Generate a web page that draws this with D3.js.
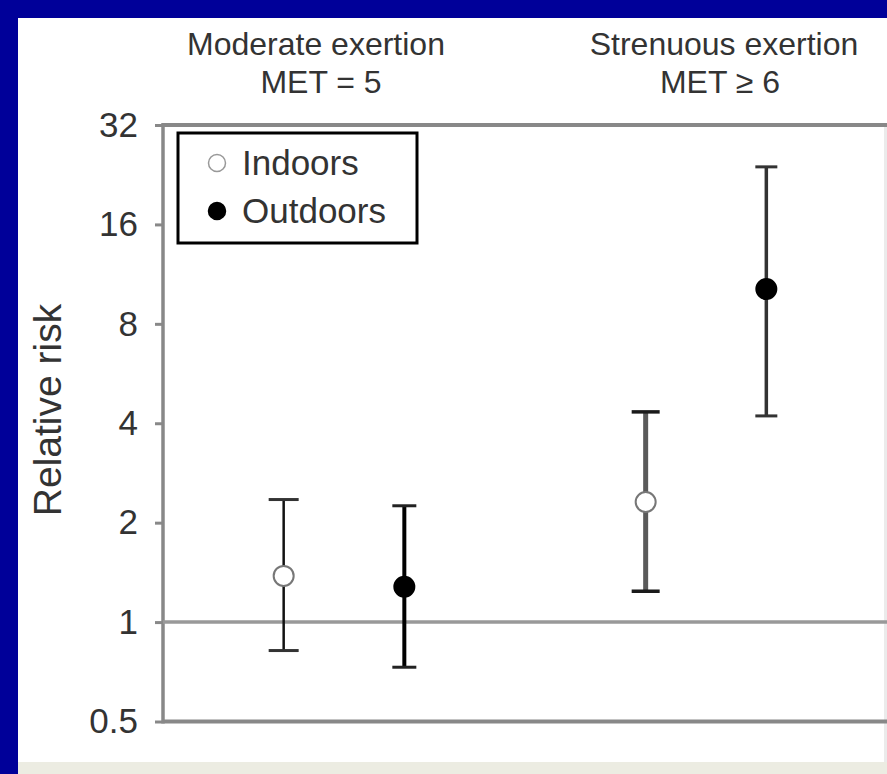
<!DOCTYPE html>
<html>
<head>
<meta charset="utf-8">
<script src="https://cdn.jsdelivr.net/npm/d3@7"></script>
<style>
  html, body { margin: 0; padding: 0; background: #000099; }
  svg { display: block; }
  text { font-family: "Liberation Sans", Arial, sans-serif; fill: #333; }
</style>
</head>
<body>
<div id="chart"></div>
<script>
'use strict';

// categories and labels
var categories = ["Moderate", "Strenuous"];
var categoryTitles = ["Moderate exertion", "Strenuous exertion"];
var categorySubtitles = ["MET = 5", "MET \u2265 6"];
var seriesNames = ["Indoors", "Outdoors"];

// relative risk with 95% CI
var indoorsRR = [1.38, 2.31];
var indoorsLow = [0.82, 1.24];
var indoorsHigh = [2.35, 4.33];
var outdoorsRR = [1.28, 10.2];
var outdoorsLow = [0.73, 4.21];
var outdoorsHigh = [2.25, 23.9];

var yTicks = [0.5, 1, 2, 4, 8, 16, 32];

var svgWidth = 887;
var svgHeight = 774;
var margin = {top: 125, right: 0, bottom: 52.5, left: 163};
var width = svgWidth - margin.left - margin.right;
var height = svgHeight - margin.top - margin.bottom;

var svg = d3.select("#chart").append("svg")
  .attr("width", svgWidth)
  .attr("height", svgHeight);

// page frame: blue border, white panel, grey strips
svg.append("rect").attr("width", svgWidth).attr("height", svgHeight).attr("fill", "#000099");
svg.append("rect").attr("x", 18).attr("y", 18).attr("width", svgWidth - 18).attr("height", 744).attr("fill", "#fff");
svg.append("rect").attr("x", 884).attr("y", 127).attr("width", 3).attr("height", 635).attr("fill", "#ebebeb");
svg.append("rect").attr("x", 18).attr("y", 762).attr("width", svgWidth - 18).attr("height", 12).attr("fill", "#ececE2");

var g = svg.append("g")
  .attr("transform", "translate(" + margin.left + "," + margin.top + ")");

var x = d3.scaleBand().domain(categories).range([0, width]);
var xs = d3.scalePoint().domain(seriesNames).range([0, x.bandwidth()]).padding(1);
var y = d3.scaleLog().base(2).domain([0.5, 32]).range([height, 0]);

// rows for each point
var rows = [];
categories.forEach(function(c, i) {
  rows.push({cat: c, ser: "Indoors", rr: indoorsRR[i], lo: indoorsLow[i], hi: indoorsHigh[i]});
  rows.push({cat: c, ser: "Outdoors", rr: outdoorsRR[i], lo: outdoorsLow[i], hi: outdoorsHigh[i]});
});

var barStyle = {
  "Moderate|Indoors":   {stroke: "#111", width: 2.5, cap: 30, capStroke: "#333", capWidth: 3},
  "Moderate|Outdoors":  {stroke: "#000", width: 4,   cap: 24, capStroke: "#222", capWidth: 3},
  "Strenuous|Indoors":  {stroke: "#5a5a5a", width: 5, cap: 28, capStroke: "#1a1a1a", capWidth: 3.5},
  "Strenuous|Outdoors": {stroke: "#333", width: 3.5, cap: 22, capStroke: "#333", capWidth: 3}
};

function px(d) { return x(d.cat) + xs(d.ser); }

// y axis
var yAxis = d3.axisLeft(y)
  .tickValues(yTicks)
  .tickFormat(function(d) { return d; })
  .tickSize(8)
  .tickPadding(17);

var ax = g.append("g").attr("class", "y axis").call(yAxis);
ax.select(".domain").remove();
ax.selectAll(".tick line").attr("stroke", "#888").attr("stroke-width", 3);
ax.selectAll(".tick text")
  .attr("font-size", 35)
  .attr("font-family", "Liberation Sans, Arial, sans-serif")
  .attr("fill", "#333");

// frame lines
g.append("line").attr("x1", 0).attr("x2", width).attr("y1", 0).attr("y2", 0)
  .attr("stroke", "#888").attr("stroke-width", 4);
g.append("line").attr("x1", 0).attr("x2", width).attr("y1", height).attr("y2", height)
  .attr("stroke", "#888").attr("stroke-width", 4);
g.append("line").attr("x1", 0).attr("x2", 0).attr("y1", -2).attr("y2", height + 2)
  .attr("stroke", "#888").attr("stroke-width", 3.5);

// reference line at RR = 1
g.append("line").attr("x1", 0).attr("x2", width).attr("y1", y(1)).attr("y2", y(1))
  .attr("stroke", "#999").attr("stroke-width", 3.5);

// error bars
var bars = g.selectAll(".bar").data(rows).enter().append("g").attr("class", "bar");

bars.append("line")
  .attr("x1", px).attr("x2", px)
  .attr("y1", function(d) { return y(d.hi); })
  .attr("y2", function(d) { return y(d.lo); })
  .attr("stroke", function(d) { return barStyle[d.cat + "|" + d.ser].stroke; })
  .attr("stroke-width", function(d) { return barStyle[d.cat + "|" + d.ser].width; });

["hi", "lo"].forEach(function(k) {
  bars.append("line")
    .attr("x1", function(d) { return px(d) - barStyle[d.cat + "|" + d.ser].cap / 2; })
    .attr("x2", function(d) { return px(d) + barStyle[d.cat + "|" + d.ser].cap / 2; })
    .attr("y1", function(d) { return y(d[k]); })
    .attr("y2", function(d) { return y(d[k]); })
    .attr("stroke", function(d) { return barStyle[d.cat + "|" + d.ser].capStroke; })
    .attr("stroke-width", function(d) { return barStyle[d.cat + "|" + d.ser].capWidth; });
});

bars.append("circle")
  .attr("cx", px)
  .attr("cy", function(d) { return y(d.rr); })
  .attr("r", 10)
  .attr("fill", function(d) { return d.ser === "Indoors" ? "#fff" : "#000"; })
  .attr("stroke", function(d) { return d.ser === "Indoors" ? "#777" : "#000"; })
  .attr("stroke-width", 2);

// category headers
var headerShift = [-28, 18];
categories.forEach(function(c, i) {
  var cx = x(c) + x.bandwidth() / 2 + headerShift[i];
  svg.append("text")
    .attr("x", margin.left + cx).attr("y", 55)
    .attr("text-anchor", "middle")
    .attr("font-size", 32)
    .text(categoryTitles[i]);
  svg.append("text")
    .attr("x", margin.left + cx + (i === 0 ? 5 : -4)).attr("y", 93)
    .attr("text-anchor", "middle")
    .attr("font-size", 32)
    .text(categorySubtitles[i]);
});

// y axis title
svg.append("text")
  .attr("transform", "translate(61,410) rotate(-90)")
  .attr("text-anchor", "middle")
  .attr("font-size", 39)
  .text("Relative risk");

// legend
var legend = svg.append("g").attr("transform", "translate(178,133)");
legend.append("rect")
  .attr("width", 239).attr("height", 110)
  .attr("fill", "#fff").attr("stroke", "#000").attr("stroke-width", 3);

seriesNames.forEach(function(s, i) {
  var row = legend.append("g").attr("transform", "translate(0," + (30 + i * 48) + ")");
  row.append("circle")
    .attr("cx", 39).attr("cy", 0).attr("r", 8.5)
    .attr("fill", s === "Indoors" ? "#fff" : "#000")
    .attr("stroke", s === "Indoors" ? "#999" : "#000")
    .attr("stroke-width", 1.5);
  row.append("text")
    .attr("x", 64).attr("y", 12)
    .attr("font-size", 35)
    .text(s);
});
</script>
</body>
</html>
